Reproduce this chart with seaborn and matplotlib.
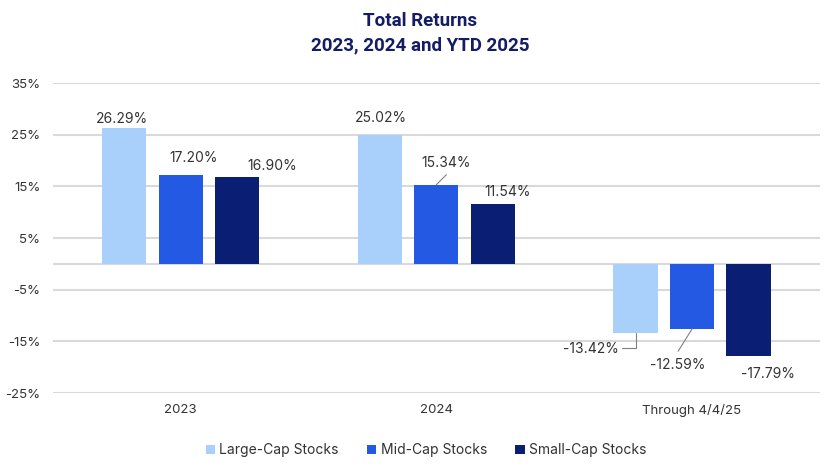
import matplotlib
matplotlib.use('Agg')

import pandas as pd
import matplotlib.pyplot as plt
import seaborn as sns

# Data
periods = ['2023', '2024', 'Through 4/4/25']
caps = ['Large-Cap Stocks', 'Mid-Cap Stocks', 'Small-Cap Stocks']
large_cap = [26.29, 25.02, -13.42]
mid_cap = [17.20, 15.34, -12.59]
small_cap = [16.90, 11.54, -17.79]
y_ticks = [-25, -15, -5, 5, 15, 25, 35]

colors = ['#a8d0fb', '#2459e3', '#0a1e74']
text_color = '#333333'
title_color = '#141c66'
grid_color = '#d9d9d9'

rows = []
for cap, vals in zip(caps, [large_cap, mid_cap, small_cap]):
    for p, v in zip(periods, vals):
        rows.append({'period': p, 'cap': cap, 'ret': v})
df = pd.DataFrame(rows)

sns.set_theme(style='white')
plt.rcParams['font.family'] = ['Inter', 'DejaVu Sans']

fig = plt.figure(figsize=(8.4, 4.72), dpi=100)
ax = fig.add_axes([0.063, 0.167, 0.913, 0.657])

sns.barplot(data=df, x='period', y='ret', hue='cap', order=periods, hue_order=caps,
            palette=colors, saturation=1, width=0.663, gap=0.22, linewidth=0,
            errorbar=None, ax=ax)

handles, labels = ax.get_legend_handles_labels()
ax.get_legend().remove()

ax.set_ylim(-25, 35)
ax.set_xlim(-0.5, 2.5)
ax.set_yticks(y_ticks)
ax.set_yticklabels([f'{t}%' for t in y_ticks])
ax.yaxis.grid(True, color=grid_color, linewidth=1.5)
ax.axhline(0, color=grid_color, linewidth=1.5, zorder=0.5)
ax.set_axisbelow(True)
for s in ax.spines.values():
    s.set_visible(False)
ax.set_xlabel('')
ax.set_ylabel('')
ax.tick_params(axis='y', length=0, pad=9, labelsize=9.5, labelcolor=text_color)
ax.tick_params(axis='x', length=0, pad=8, labelsize=9.5, labelcolor=text_color)

# label offsets in points (from bar end), per series and period
offsets = {
    0: [(-1.5, 6.5), (0.5, 12.2), (-32, -11.2)],
    1: [(9, 12.6), (6.8, 15.6), (-10, -26)],
    2: [(25.2, 7.6), (10.8, 8.6), (13.7, -13)],
}
for i, cont in enumerate(ax.containers):
    for j, bar in enumerate(cont):
        v = bar.get_height()
        x = bar.get_x() + bar.get_width() / 2
        dx, dy = offsets[i][j]
        ax.annotate(f'{v:.2f}%', xy=(x, v), xytext=(dx, dy), textcoords='offset points',
                    ha='center', va='center', fontsize=10, color=text_color)

# leader lines
b = ax.containers[1][1]
x = b.get_x() + b.get_width() / 2
ax.annotate('', xy=(x, b.get_height()), xytext=(7.2, 7.2), textcoords='offset points',
            arrowprops=dict(arrowstyle='-', color='#808080', lw=0.8, shrinkA=0, shrinkB=0))
b = ax.containers[0][2]
x = b.get_x() + b.get_width() / 2
ax.annotate('', xy=(x, b.get_height()), xytext=(-10, -10.5), textcoords='offset points',
            arrowprops=dict(arrowstyle='-', color='#808080', lw=0.8, shrinkA=0, shrinkB=0,
                            connectionstyle='angle,angleA=0,angleB=90,rad=0'))
b = ax.containers[1][2]
x = b.get_x() + b.get_width() / 2
ax.annotate('', xy=(x, b.get_height()), xytext=(-10, -16), textcoords='offset points',
            arrowprops=dict(arrowstyle='-', color='#808080', lw=0.8, shrinkA=0, shrinkB=0))

fig.text(0.5, 0.956, 'Total Returns', ha='center', va='center', fontsize=13.5,
         fontweight='bold', color=title_color, family=['Roboto', 'DejaVu Sans'])
fig.text(0.5, 0.903, '2023, 2024 and YTD 2025', ha='center', va='center', fontsize=13.5,
         fontweight='bold', color=title_color, family=['Roboto', 'DejaVu Sans'])

fig.legend(handles, labels, loc='center', bbox_to_anchor=(0.507, 0.046), ncol=3,
           frameon=False, fontsize=10, handlelength=0.7, handleheight=0.7,
           handletextpad=0.3, columnspacing=2.0, labelcolor=text_color)

fig.savefig('out.png', dpi=100)
